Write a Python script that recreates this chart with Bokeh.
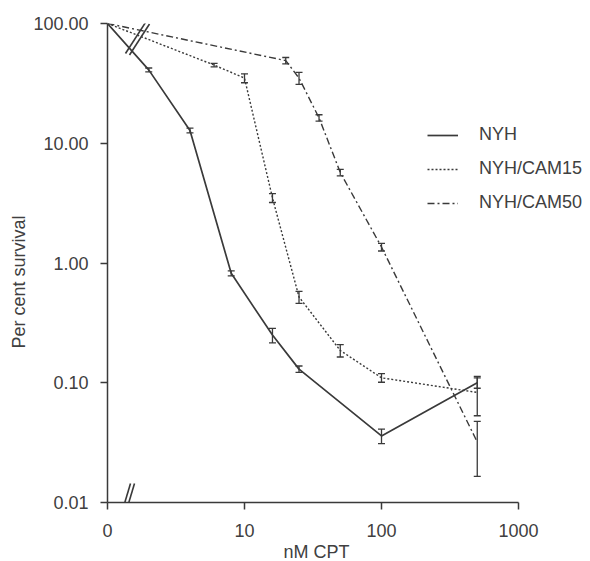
import numpy as np
from bokeh.plotting import figure
from bokeh.models import (ColumnDataSource, Whisker, TeeHead, Legend, LegendItem,
                          FixedTicker, Range1d, Arrow, Title)
from bokeh.embed import file_html
from bokeh.resources import INLINE

# ---- data (x = 1 stands for the "0" dose on the broken log axis) ----
nyh_x = [1, 2, 4, 8, 16, 25, 100, 500]
nyh_y = [100, 41, 12.8, 0.82, 0.25, 0.13, 0.036, 0.1]
nyh_err = [0, 1.5, 0.6, 0.04, 0.035, 0.008, 0.005, 0.01]

cam15_x = [1, 6, 10, 16, 25, 50, 100, 500]
cam15_y = [100, 45, 35, 3.5, 0.52, 0.186, 0.11, 0.083]
cam15_err = [0, 1.5, 3, 0.3, 0.06, 0.022, 0.009, 0.03]

cam50_x = [1, 20, 25, 35, 50, 100, 500]
cam50_y = [100, 49, 35, 16.3, 5.7, 1.36, 0.032]
cam50_err = [0, 3, 4, 1, 0.35, 0.1, 0.0155]

series_names = ["NYH", "NYH/CAM15", "NYH/CAM50"]
x_ticks = [1, 10, 100, 1000]
x_tick_labels = ["0", "10", "100", "1000"]
y_ticks = [0.01, 0.1, 1, 10, 100]
y_tick_labels = ["0.01", "0.10", "1.00", "10.00", "100.00"]
x_title = "nM CPT"
y_title = "Per cent survival"

INK = "#3a3a3a"
TXT = "#404040"
FONT = "Liberation Sans"

W, H = 590, 561
L, T, B = 107, 23, 59
AXW = 411                      # pixel length of the 1..1000 x axis
fw, fh = W - L, H - T - B      # frame extends to the right edge (room for legend)
x_max = 10 ** (3 * fw / AXW)

p = figure(width=W, height=H, x_axis_type="log", y_axis_type="log",
           x_range=Range1d(1, x_max), y_range=Range1d(0.01, 100),
           output_backend="svg", toolbar_location=None,
           min_border_left=L, min_border_right=0, min_border_top=T, min_border_bottom=B)
p.grid.visible = False
p.outline_line_color = None
p.background_fill_color = "white"

for ax in (p.xaxis[0], p.yaxis[0]):
    ax.axis_line_color = INK
    ax.axis_line_width = 1.5
    ax.major_tick_line_color = INK
    ax.major_tick_line_width = 1.5
    ax.major_tick_out = 7
    ax.major_tick_in = 0
    ax.minor_tick_line_color = None
    ax.major_label_text_font = FONT
    ax.major_label_text_font_size = "18px"
    ax.major_label_text_color = TXT

p.xaxis.bounds = (1, 1000)
p.xaxis.ticker = FixedTicker(ticks=x_ticks, minor_ticks=[])
p.xaxis.major_label_overrides = {t: s for t, s in zip(x_ticks, x_tick_labels)}
p.yaxis.ticker = FixedTicker(ticks=y_ticks, minor_ticks=[])
p.yaxis.major_label_overrides = {t: s for t, s in zip(y_ticks, y_tick_labels)}
p.xaxis.major_label_standoff = 14
p.yaxis.major_label_standoff = 12

# axis titles as side-panel titles so they can be offset like in the original
tx = Title(text=x_title, align="left", offset=176, standoff=0, text_font=FONT,
           text_font_size="18px", text_font_style="normal", text_color=TXT)
p.add_layout(tx, "below")
ty = Title(text=y_title, align="left", offset=154, standoff=4, text_font=FONT,
           text_font_size="18px", text_font_style="normal", text_color=TXT)
p.add_layout(ty, "left")

styles = [dict(line_dash="solid", line_width=1.7),
          dict(line_dash="2 2", line_width=1.4),
          dict(line_dash="7 3 2 3", line_width=1.4)]
data = [(nyh_x, nyh_y, nyh_err), (cam15_x, cam15_y, cam15_err), (cam50_x, cam50_y, cam50_err)]

items = []
for name, (xs, ys, es), st in zip(series_names, data, styles):
    src = ColumnDataSource(dict(x=xs, y=ys))
    r = p.line("x", "y", source=src, line_color=INK, **st)
    items.append(LegendItem(label=name, renderers=[r]))
    xe = [x for x, e in zip(xs, es) if e > 0]
    ye = [y for y, e in zip(ys, es) if e > 0]
    ee = [e for e in es if e > 0]
    esrc = ColumnDataSource(dict(x=xe, lo=[y - e for y, e in zip(ye, ee)],
                                 hi=[y + e for y, e in zip(ye, ee)]))
    wk = Whisker(source=esrc, base="x", lower="lo", upper="hi", dimension="height",
                 line_color=INK, line_width=1.3,
                 lower_head=TeeHead(size=7, line_color=INK, line_width=1.3),
                 upper_head=TeeHead(size=7, line_color=INK, line_width=1.3))
    p.add_layout(wk)

legend = Legend(items=items, location=(320, 289), glyph_width=31, glyph_height=20,
                label_height=20, label_standoff=21, spacing=13, padding=0, margin=0,
                border_line_color=None, background_fill_alpha=0,
                label_text_font=FONT, label_text_font_size="18px", label_text_color=TXT)
p.add_layout(legend, "center")

# ---- axis-break marks (decoration), positioned in pixels of the frame ----
def to_data(px, py):
    lx = (px - L) / AXW * 3
    ly = 2 - (py - T) / fh * 4
    return 10 ** lx, 10 ** ly

def brk(cx, cy, hdx, hdy, off_x, off_y):
    for k in (0, 1):
        x0, y0 = to_data(cx - hdx + k * off_x, cy + hdy + k * off_y)
        x1, y1 = to_data(cx + hdx + k * off_x, cy - hdy + k * off_y)
        p.add_layout(Arrow(x_start=x0, y_start=y0, x_end=x1, y_end=y1, start=None, end=None,
                           line_color=INK, line_width=1.6))

brk(124, 503, 6, 20, 4, 0)
brk(135, 37.5, 10, 15.5, 4, 1.5)

open("out.html", "w").write(file_html(p, INLINE))
